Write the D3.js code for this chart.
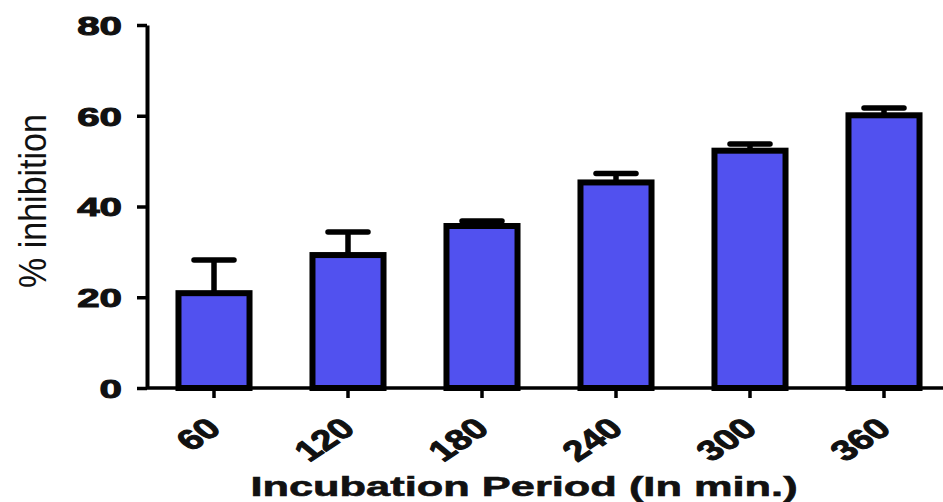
<!DOCTYPE html>
<html>
<head>
<meta charset="utf-8">
<script src="https://cdn.jsdelivr.net/npm/d3@7"></script>
<style>
  body { margin: 0; background: #fff; }
  svg { display: block; font-family: 'Liberation Sans', Arial, sans-serif; }
</style>
</head>
<body>
<div id="chart"></div>
<script>
// data
const periods = ['60', '120', '180', '240', '300', '360'];
const inhibition = [20.9, 29.3, 35.7, 45.3, 52.3, 60.1];
const sem = [7.3, 5.1, 1.1, 2.0, 1.5, 1.6];
const yTicks = [0, 20, 40, 60, 80];

const width = 943;
const height = 502;
const sx = 1.55; // the original picture is stretched sideways

const svg = d3
  .select('#chart')
  .append('svg')
  .attr('width', width)
  .attr('height', height);

const x = d3
  .scaleBand()
  .domain(periods)
  .range([147, 951])
  .paddingInner(0.44)
  .paddingOuter(0.22);

const y = d3.scaleLinear().domain([0, 80]).range([388, 25]);

// bars
svg
  .append('g')
  .selectAll('rect')
  .data(periods)
  .join('rect')
  .attr('x', (d) => x(d) + 2)
  .attr('width', x.bandwidth() - 4)
  .attr('y', (d, i) => y(inhibition[i]))
  .attr('height', (d, i) => y(0) - y(inhibition[i]))
  .attr('fill', '#5151ef')
  .attr('stroke', '#000')
  .attr('stroke-width', 6);

// upper error bars
const err = svg.append('g').attr('stroke', '#000').attr('stroke-width', 5.5);
err
  .selectAll('line.stem')
  .data(periods)
  .join('line')
  .attr('class', 'stem')
  .attr('x1', (d) => x(d) + x.bandwidth() / 2)
  .attr('x2', (d) => x(d) + x.bandwidth() / 2)
  .attr('y1', (d, i) => y(inhibition[i]))
  .attr('y2', (d, i) => y(inhibition[i] + sem[i]));
err
  .selectAll('line.cap')
  .data(periods)
  .join('line')
  .attr('class', 'cap')
  .attr('stroke-linecap', 'round')
  .attr('x1', (d) => x(d) + x.bandwidth() / 2 - 20)
  .attr('x2', (d) => x(d) + x.bandwidth() / 2 + 20)
  .attr('y1', (d, i) => y(inhibition[i] + sem[i]))
  .attr('y2', (d, i) => y(inhibition[i] + sem[i]));

// y axis
const yAxis = svg
  .append('g')
  .attr('transform', 'translate(147,0)')
  .call(d3.axisLeft(y).tickValues(yTicks).tickSize(10).tickSizeOuter(0));
yAxis.select('.domain').attr('stroke', '#000').attr('stroke-width', 4);
yAxis.selectAll('.tick line').attr('stroke', '#000').attr('stroke-width', 3.5);
yAxis
  .selectAll('.tick text')
  .attr('x', null)
  .attr('dy', '0.36em')
  .attr('transform', `translate(-25,0) scale(${sx},1)`)
  .attr('fill', '#111')
  .attr('stroke', '#111')
  .attr('stroke-width', 1)
  .style('font-size', '26px')
  .style('font-weight', 'bold');

// x axis
const xAxis = svg
  .append('g')
  .attr('transform', 'translate(0,388)')
  .call(d3.axisBottom(x).tickSize(10).tickSizeOuter(0));
xAxis.select('.domain').attr('d', `M147,0H${width}`).attr('stroke', '#000').attr('stroke-width', 3.5);
xAxis.selectAll('.tick line').attr('stroke', '#000').attr('stroke-width', 3.5);
xAxis.selectAll('.tick text').remove();

svg
  .append('g')
  .selectAll('text')
  .data(periods)
  .join('text')
  .attr('transform', (d) => `translate(${x(d) + x.bandwidth() / 2 + 9},431) scale(1.35,1) rotate(-42)`)
  .attr('text-anchor', 'end')
  .attr('fill', '#111')
  .attr('stroke', '#111')
  .attr('stroke-width', 1)
  .style('font-size', '28.5px')
  .style('font-weight', 'bold')
  .text((d) => d);

// axis titles
svg
  .append('text')
  .attr('transform', `translate(524,496) scale(${sx},1)`)
  .attr('text-anchor', 'middle')
  .attr('fill', '#111')
  .attr('stroke', '#111')
  .attr('stroke-width', 0.6)
  .style('font-size', '28px')
  .style('font-weight', 'bold')
  .text('Incubation Period (In min.)');

svg
  .append('text')
  .attr('transform', 'translate(46,201) scale(1.15,1) rotate(-90)')
  .attr('text-anchor', 'middle')
  .attr('fill', '#111')
  .style('font-size', '34px')
  .text('% inhibition');
</script>
</body>
</html>
